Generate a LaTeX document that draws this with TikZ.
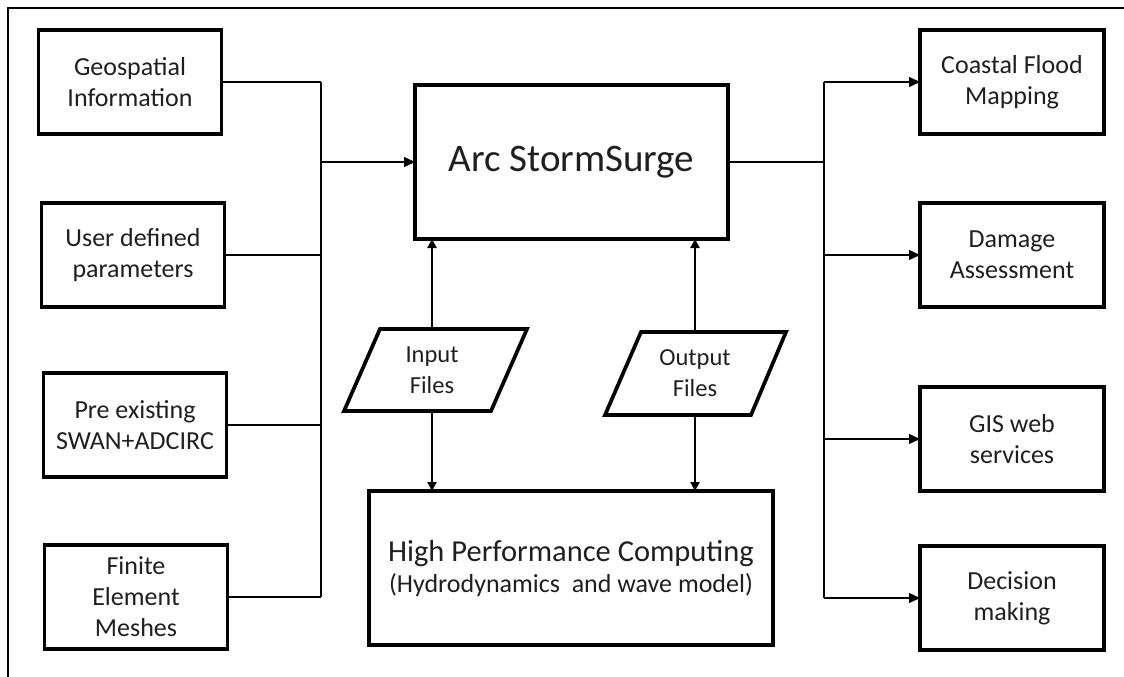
\documentclass[tikz,border=0pt]{standalone}
\usepackage{fontspec}
\setmainfont{Carlito}
\usetikzlibrary{arrows.meta}
\definecolor{txt}{gray}{0.12}
\begin{document}
\begin{tikzpicture}[x=1pt,y=-1pt,
  box/.style={draw,line width=3.7pt,minimum width=183pt,minimum height=104pt,inner sep=0pt,outer sep=0pt,align=center,text=txt,font=\fontsize{26}{31}\selectfont},
  para/.style={inner sep=0pt,outer sep=0pt,minimum height=82pt,minimum width=10pt,align=center,text=txt,font=\fontsize{24.5}{31}\selectfont},
  thin/.style={line width=1.3pt},
  arr/.style={thin,-{Triangle[length=11pt,width=10pt]}},
  thick arr/.style={line width=2.6pt,-{Triangle[length=9pt,width=9pt]}},
  parashape/.style={line width=3.7pt,line join=miter}]
\useasboundingbox (0,0) rectangle (1124,677);
\draw[line width=2pt] (8,677) -- (8,8) -- (1124,8);
% left inputs
\node[box] (geo) at (130,82) {Geospatial\\Information};
\node[box] (user) at (133,255) {User defined\\parameters};
\node[box] (pre) at (135,425) {Pre existing\\SWAN+ADCIRC};
\node[box] (fem) at (136,597) {Finite\\Element\\Meshes};
% right outputs
\node[box,minimum width=184pt] (flood) at (1012,82) {Coastal Flood\\Mapping};
\node[box,minimum width=184pt] (dmg) at (1012,255) {Damage\\Assessment};
\node[box,minimum width=184pt] (gis) at (1012,439) {GIS web\\services};
\node[box,minimum width=184pt] (dec) at (1012,598) {Decision\\making};
% central
\node[box,minimum width=313pt,minimum height=154pt,font=\fontsize{39}{44}\selectfont] (arc) at (571.5,162) {Arc StormSurge};
\node[box,minimum width=404pt,minimum height=154pt,font=\fontsize{30.5}{33}\selectfont] (hpc) at (571,568)
  {High Performance Computing\\[-2pt]{\fontsize{26}{31}\selectfont (Hydrodynamics\ \ and wave model)}};
% parallelograms
\node[para] (in) at (432,370) {Input\\Files};
\node[para,minimum height=83pt] (out) at (695,373.5) {Output\\Files};
\draw[parashape] (380,329) -- (527,329) -- (491,411) -- (344,411) -- cycle;
\draw[parashape] (641,332) -- (786,332) -- (751,415) -- (605,415) -- cycle;
% left bus
\coordinate (lbus) at (321,0);
\foreach \n in {geo,user,pre,fem} \draw[thin] (\n.east) -- (\n.east -| lbus);
\draw[thin] (geo.east -| lbus) -- (fem.east -| lbus);
\draw[arr] (arc.west -| lbus) -- (arc.west);
% right bus
\coordinate (rbus) at (824,0);
\draw[thin] (arc.east) -- (arc.east -| rbus);
\draw[thin] (flood.west -| rbus) -- (dec.west -| rbus);
\foreach \n in {flood,dmg,gis,dec} \draw[arr] (\n.west -| rbus) -- (\n.west);
% vertical arrows
\draw[thick arr] (in.north) -- (arc.south -| in.north);
\draw[thick arr] (in.south) -- (hpc.north -| in.south);
\draw[thick arr] (out.north) -- (arc.south -| out.north);
\draw[thick arr] (out.south) -- (hpc.north -| out.south);
\end{tikzpicture}
\end{document}
